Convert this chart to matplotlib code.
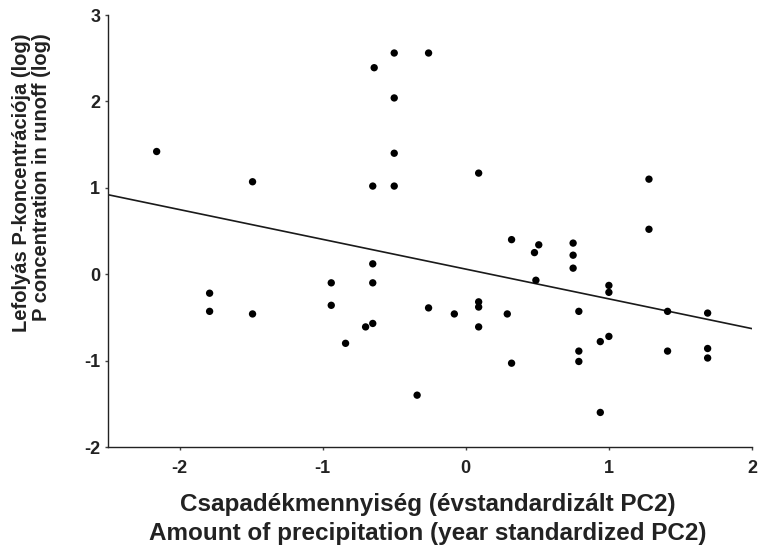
import matplotlib
matplotlib.use('Agg')
import matplotlib.pyplot as plt

plt.rcParams['font.family'] = ['Liberation Sans', 'DejaVu Sans']

# precipitation (year standardized PC2)
precip = [-2.16, -1.49, -1.79, -1.79, -1.49, -0.94, -0.94, -0.84, -0.70, -0.65,
          -0.65, -0.65, -0.65, -0.64, -0.50, -0.50, -0.50, -0.50, -0.34, -0.26,
          -0.26, -0.08, 0.09, 0.09, 0.09, 0.09, 0.29, 0.32, 0.32, 0.48,
          0.51, 0.49, 0.75, 0.75, 0.75, 0.79, 0.79, 0.79, 0.94, 0.94,
          1.00, 1.00, 1.00, 1.28, 1.28, 1.41, 1.41, 1.69, 1.69, 1.69]
# P concentration in runoff (log)
p_conc = [1.42, 1.07, -0.22, -0.43, -0.46, -0.10, -0.36, -0.80, -0.61, -0.57,
          -0.10, 0.12, 1.02, 2.39, 2.56, 2.04, 1.40, 1.02, -1.40, 2.56,
          -0.39, -0.46, 1.17, -0.32, -0.38, -0.61, -0.46, 0.40, -1.03, 0.25,
          0.34, -0.07, 0.36, 0.22, 0.07, -0.43, -0.89, -1.01, -0.78, -1.60,
          -0.13, -0.21, -0.72, 1.10, 0.52, -0.43, -0.89, -0.45, -0.86, -0.97]

# fitted regression line (end points)
fit_x = [-2.5, 2.0]
fit_y = [0.92, -0.63]

xticks = [-2, -1, 0, 1, 2]
yticks = [-2, -1, 0, 1, 2, 3]

fig = plt.figure(figsize=(7.62, 5.5), dpi=100)
ax = fig.add_axes([108 / 762, 1 - 447 / 550, (752 - 108) / 762, (447 - 15) / 550])

ax.plot(fit_x, fit_y, color='#1a1a1a', lw=1.2, zorder=2)
ax.scatter(precip, p_conc, s=28, color='black', edgecolors='none', zorder=3)

ax.set_xlim(-2.5, 2)
ax.set_ylim(-2, 3)
ax.set_xticks(xticks)
ax.set_yticks(yticks)
ax.set_xticklabels([str(t) for t in xticks])
ax.set_yticklabels([str(t) for t in yticks])

for side in ['top', 'right']:
    ax.spines[side].set_visible(False)
for side in ['left', 'bottom']:
    ax.spines[side].set_color('#222222')
    ax.spines[side].set_linewidth(1)

ax.tick_params(axis='both', direction='out', length=2.5, width=1, color='#444444',
               labelsize=13)
ax.tick_params(axis='x', pad=7)
ax.tick_params(axis='y', pad=3)
for lab in ax.get_xticklabels() + ax.get_yticklabels():
    lab.set_fontweight('bold')
    lab.set_color('#222222')

fig.text(0.561, 0.056,
         'Csapadékmennyiség (évstandardizált PC2)\nAmount of precipitation (year standardized PC2)',
         ha='center', va='center', multialignment='center', fontsize=17.5,
         fontweight='bold', color='#222222', linespacing=1.3)
fig.text(0.041, 0.668,
         'Lefolyás P-koncentrációja (log)\nP concentration in runoff (log)',
         ha='center', va='center', multialignment='right', rotation=90,
         fontsize=14.5, fontweight='bold', color='#222222', linespacing=1.05)

fig.savefig('out.png', dpi=100)
